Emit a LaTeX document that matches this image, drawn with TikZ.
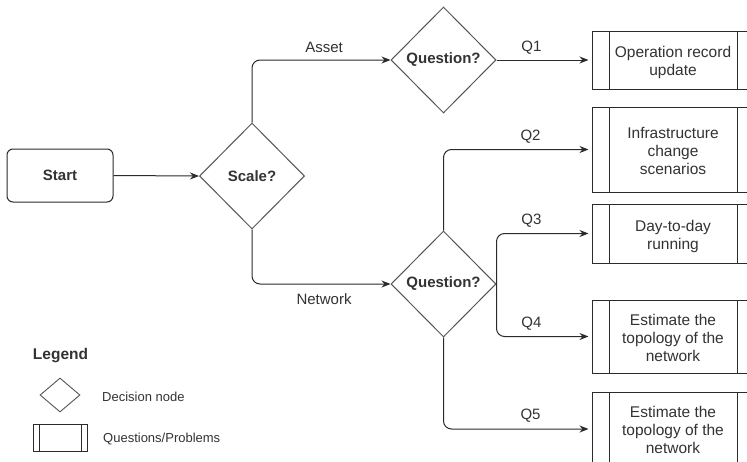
\documentclass[tikz,border=0pt]{standalone}
\usepackage{fontspec}
\setmainfont{Liberation Sans}
\usetikzlibrary{shapes.geometric,arrows.meta}
\definecolor{ln}{HTML}{2B2B2B}
\definecolor{dl}{HTML}{555555}
\definecolor{tx}{HTML}{333333}
\newcommand\mytopstrut{\rule{0pt}{17pt}}
\newcommand\mybotstrut{\rule[-3.5pt]{0pt}{3.5pt}}
\begin{document}
\begin{tikzpicture}[x=1pt,y=-1pt,
  every node/.style={text=tx},
  startbox/.style={draw=ln, line width=1pt, rounded corners=6pt, minimum width=106pt, minimum height=53pt, inner sep=0pt, font=\fontsize{15}{18}\selectfont\bfseries},
  decision/.style={diamond, draw=dl, line width=1pt, minimum width=105pt, minimum height=106pt, inner sep=0pt, font=\fontsize{15}{18}\selectfont\bfseries},
  procbox/.style={draw=ln, line width=1pt, inner sep=0pt, align=center, font=\fontsize{15.5}{18}\selectfont,
    path picture={\draw[ln, line width=1pt]
      ([xshift=#1]path picture bounding box.north west) -- ([xshift=#1]path picture bounding box.south west)
      ([xshift=-#1]path picture bounding box.north east) -- ([xshift=-#1]path picture bounding box.south east);}},
  procbox/.default=17pt,
  conn/.style={draw=ln, line width=1pt, rounded corners=8pt, -{Stealth[length=9pt,width=7pt]}},
  lbl/.style={font=\fontsize{15}{18}\selectfont, inner sep=0pt},
  small/.style={font=\fontsize{13}{15}\selectfont, inner sep=0pt, anchor=west},
]
\clip (0,0) rectangle (747,461);
\fill[white] (0,0) rectangle (747,461);

% main nodes
\node[startbox] (start) at (60,175.5) {Start};
\node[decision] (scale) at (252,176) {Scale?};
\node[decision] (q1) at (443.5,60) {Question?};
\node[decision] (q2) at (443.5,284) {Question?};

\node[procbox, minimum width=162pt, minimum height=58pt] (b1) at (673,60) {\mytopstrut Operation record\\update\mybotstrut};
\node[procbox, minimum width=162pt, minimum height=85pt] (b2) at (673,149.5) {\mytopstrut Infrastructure\\change\\scenarios\mybotstrut};
\node[procbox, minimum width=162pt, minimum height=59pt] (b3) at (673,233.5) {\mytopstrut Day-to-day\\running\mybotstrut};
\node[procbox, minimum width=162pt, minimum height=73pt] (b4) at (673,336.5) {\mytopstrut Estimate the\\topology of the\\network\mybotstrut};
\node[procbox, minimum width=162pt, minimum height=74pt] (b5) at (673,429) {\mytopstrut Estimate the\\topology of the\\network\mybotstrut};

% connectors
\draw[conn] (start.east) -- (scale.west);
\draw[conn] (scale.north) |- node[lbl, pos=0.76, yshift=13pt] {Asset} (q1.west);
\draw[conn] (scale.south) |- node[lbl, pos=0.76, yshift=-15pt] {Network} (q2.west);
\draw[conn] (q1.east) -- node[lbl, pos=0.38, yshift=12pt] {Q1} ([xshift=-3pt]b1.west);
\draw[conn] (q2.north) |- node[lbl, pos=0.80, yshift=13pt] {Q2} ([xshift=-3pt]b2.west);
\draw[conn] (q2.east) |- node[lbl, pos=0.69, yshift=13pt] {Q3} ([xshift=-3pt]b3.west);
\draw[conn] (q2.east) |- node[lbl, pos=0.69, yshift=13pt] {Q4} ([xshift=-3pt]b4.west);
\draw[conn] (q2.south) |- node[lbl, pos=0.80, yshift=13pt] {Q5} ([xshift=-3pt]b5.west);

% legend
\node[font=\fontsize{15.5}{18}\selectfont\bfseries, inner sep=0pt] (legend) at (60.5,356) {Legend};
\node[diamond, draw=dl, line width=0.9pt, minimum width=40pt, minimum height=34pt, inner sep=0pt] (ld) at (60,395) {};
\node[small] (ldt) at (102,397) {Decision node};
\node[procbox=6pt, minimum width=54pt, minimum height=27pt] (lb) at (60,437.5) {};
\node[small] (lbt) at (103,439) {Questions/Problems};
\end{tikzpicture}
\end{document}
